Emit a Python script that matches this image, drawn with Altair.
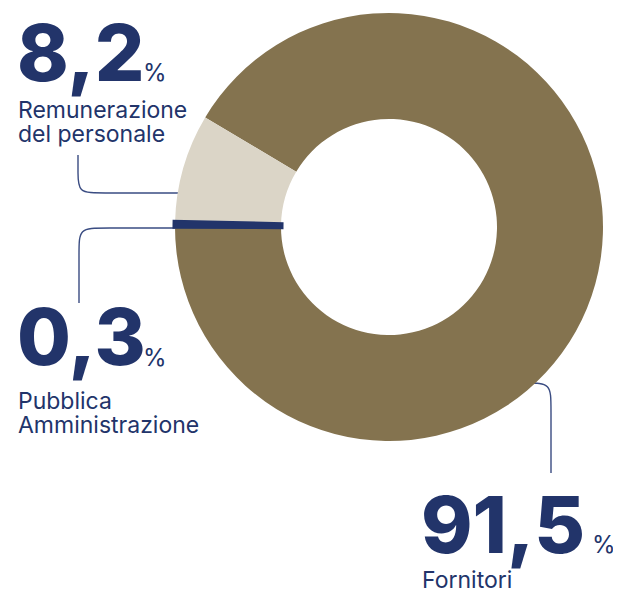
import altair as alt
import pandas as pd
import math

# ---- data ----
categories = ["Fornitori", "Pubblica Amministrazione", "Remunerazione del personale"]
shares = [91.5, 0.3, 8.2]
slice_order = [0, 1, 2]
colors = ["#84734F", "#22346A", "#DBD5C7"]

value_labels = ["8,2", "0,3", "91,5"]
name_lines = [["Remunerazione", "del personale"], ["Pubblica", "Amministrazione"], ["Fornitori"]]

NAVY = "#22346A"
W, H = 605, 584

# layout (page coordinates)
center = (389, 227)
r_out, r_in = 214, 108
start_deg = 300.8

num_pos = [(17, 81), (17, 365), (421, 553)]
pct_pos = [(143, 81), (143, 366), (592, 553)]
name_pos = [(18, 118, 24), (18, 409, 24), (422, 588, 24)]

leaders = [
    [(78, 155), (78, 172), (78, 193), (99, 193), (206, 193)],
    [(176, 228), (101, 228), (79, 228), (79, 250), (79, 303)],
    [(494, 383), (529, 383), (551, 383), (551, 405), (551, 473)],
]

pie_df = pd.DataFrame({"cat": categories, "share": shares, "ord": slice_order})

xs = alt.Scale(domain=[8, 8 + W], nice=False, zero=False)
ys = alt.Scale(domain=[8, 8 + H], nice=False, zero=False, reverse=True)

t0 = math.radians(start_deg)
theta_scale = alt.Scale(range=[t0, t0 + 2 * math.pi])
color_scale = alt.Scale(domain=categories, range=colors)

base_arc = alt.Chart(pie_df).encode(
    theta=alt.Theta("share:Q", stack=True, scale=theta_scale),
    order=alt.Order("ord:Q"),
    color=alt.Color("cat:N", scale=color_scale, legend=None),
    x=alt.value(center[0] - 8),
    y=alt.value(center[1] - 8),
)
pie = base_arc.mark_arc(radius=r_out, radius2=r_in, strokeWidth=0)
navy_band = base_arc.mark_arc(radius=r_out, radius2=r_in, stroke=NAVY, strokeWidth=5).encode(
    opacity=alt.condition(alt.datum.cat == categories[1], alt.value(1), alt.value(0))
)

# leader lines
rows = []
for i, pts in enumerate(leaders):
    for j, (px, py) in enumerate(pts):
        rows.append({"line": i, "k": j, "px": px, "py": py})
lead_df = pd.DataFrame(rows)
lines = alt.Chart(lead_df).mark_line(color="#3A4C82", strokeWidth=1.4, interpolate="basis").encode(
    x=alt.X("px:Q", scale=xs, axis=None),
    y=alt.Y("py:Q", scale=ys, axis=None),
    detail="line:N",
    order="k:Q",
)

# numbers
num_df = pd.DataFrame({"t": value_labels, "px": [p[0] for p in num_pos], "py": [p[1] for p in num_pos]})
nums = alt.Chart(num_df).mark_text(
    font="Inter", fontSize=78, fontWeight=800, color=NAVY, align="left", baseline="alphabetic"
).encode(x=alt.X("px:Q", scale=xs, axis=None), y=alt.Y("py:Q", scale=ys, axis=None), text="t:N")

pct_df = pd.DataFrame({"t": ["%"] * 3, "px": [p[0] for p in pct_pos], "py": [p[1] for p in pct_pos]})
pcts = alt.Chart(pct_df).mark_text(
    font="Inter", fontSize=24, fontWeight=400, color=NAVY, align="left", baseline="alphabetic"
).encode(x=alt.X("px:Q", scale=xs, axis=None), y=alt.Y("py:Q", scale=ys, axis=None), text="t:N")

nrows = []
for lines_, (px, py, lh) in zip(name_lines, name_pos):
    for j, s in enumerate(lines_):
        nrows.append({"t": s, "px": px, "py": py + j * lh})
name_df = pd.DataFrame(nrows)
names = alt.Chart(name_df).mark_text(
    font="Inter", fontSize=23, fontWeight=400, color=NAVY, align="left", baseline="alphabetic"
).encode(x=alt.X("px:Q", scale=xs, axis=None), y=alt.Y("py:Q", scale=ys, axis=None), text="t:N")

chart = alt.layer(lines, pie, navy_band, nums, pcts, names).properties(
    width=W, height=H, autosize=alt.AutoSizeParams(type="none"), padding=0, background="white"
).configure_view(stroke=None)

chart.save("out.html", embed_options={"renderer": "svg", "actions": False})
